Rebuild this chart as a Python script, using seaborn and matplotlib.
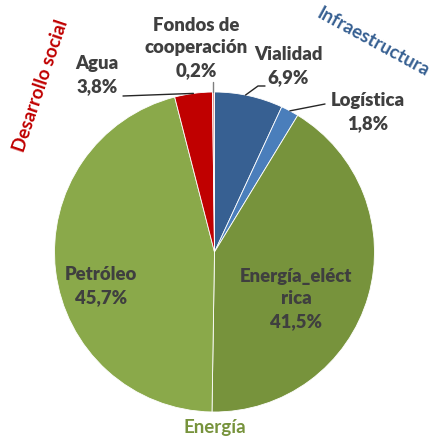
import numpy as np
import matplotlib
matplotlib.use("Agg")
import matplotlib.pyplot as plt
import seaborn as sns

sns.set_theme(style="white")
plt.rcParams['font.family'] = ['Lato', 'DejaVu Sans']

categories = ["Vialidad", "Logística", "Energía_eléctrica", "Petróleo", "Agua", "Fondos de cooperación"]
values = [6.9, 1.8, 41.5, 45.7, 3.8, 0.2]
value_labels = ["6,9%", "1,8%", "41,5%", "45,7%", "3,8%", "0,2%"]
display_names = ["Vialidad", "Logística", "Energía_eléct\nrica", "Petróleo", "Agua", "Fondos de\ncooperación"]
colors = ["#376092", "#4A7EBB", "#77933C", "#8AA94A", "#C00000", "#D99694"]
groups = ["Infraestructura", "Energía", "Desarrollo social"]
group_colors = ["#376092", "#77933C", "#C00000"]

W, H = 440, 438
fig = plt.figure(figsize=(W / 100, H / 100), dpi=100)
ax = fig.add_axes([0, 0, 1, 1])


def Y(y):
    return H - y


cx, cy, R = 214.5, 252, 160
wedges, _ = ax.pie(values, colors=colors, startangle=90, counterclock=False,
                   center=(cx, Y(cy)), radius=R, frame=True,
                   wedgeprops=dict(edgecolor="white", linewidth=0.6))
ax.set_xlim(0, W)
ax.set_ylim(0, H)
ax.set_aspect("equal")
ax.axis("off")

tc = "#3F3F3F"
fs = 13.3
fw = "heavy"
label_pos = {
    "Vialidad": (288, 66),
    "Logística": (368, 112),
    "Energía_eléctrica": (296, 299),
    "Petróleo": (101, 286),
    "Agua": (97, 75),
    "Fondos de cooperación": (196, 48),
}
for cat, name, vl in zip(categories, display_names, value_labels):
    x, y = label_pos[cat]
    ax.text(x, Y(y), f"{name}\n{vl}", ha="center", va="center", fontsize=fs,
            fontweight=fw, color=tc, linespacing=1.42)


def edge_point(i, frac=0.5):
    w = wedges[i]
    t = w.theta1 + (w.theta2 - w.theta1) * frac
    a = np.deg2rad(t)
    return cx + R * np.cos(a), Y(cy) + R * np.sin(a)


lc = "#262626"
ex, ey = edge_point(0, 0.55)
ax.plot([ex, 258, 265], [ey, Y(86), Y(86)], color=lc, lw=1.0)
ex, ey = edge_point(1)
ax.plot([ex, 325], [ey, Y(104)], color=lc, lw=1.0)
ex, ey = edge_point(4)
ax.plot([123, ex], [Y(96), ey], color=lc, lw=1.0)
ex, ey = edge_point(5)
ax.plot([ex, ex], [Y(82), ey], color="#7F7F7F", lw=1.0)

ax.text(373, Y(42), groups[0], rotation=-28.6, ha="center", va="center", fontsize=13.5,
        fontweight="bold", color=group_colors[0])
ax.text(215, Y(428), groups[1], ha="center", va="center", fontsize=13.5,
        fontweight="bold", color=group_colors[1])
ax.text(41, Y(86), groups[2], rotation=71.4, ha="center", va="center", fontsize=13.5,
        fontweight="bold", color=group_colors[2])

fig.savefig("out.png", dpi=100)
